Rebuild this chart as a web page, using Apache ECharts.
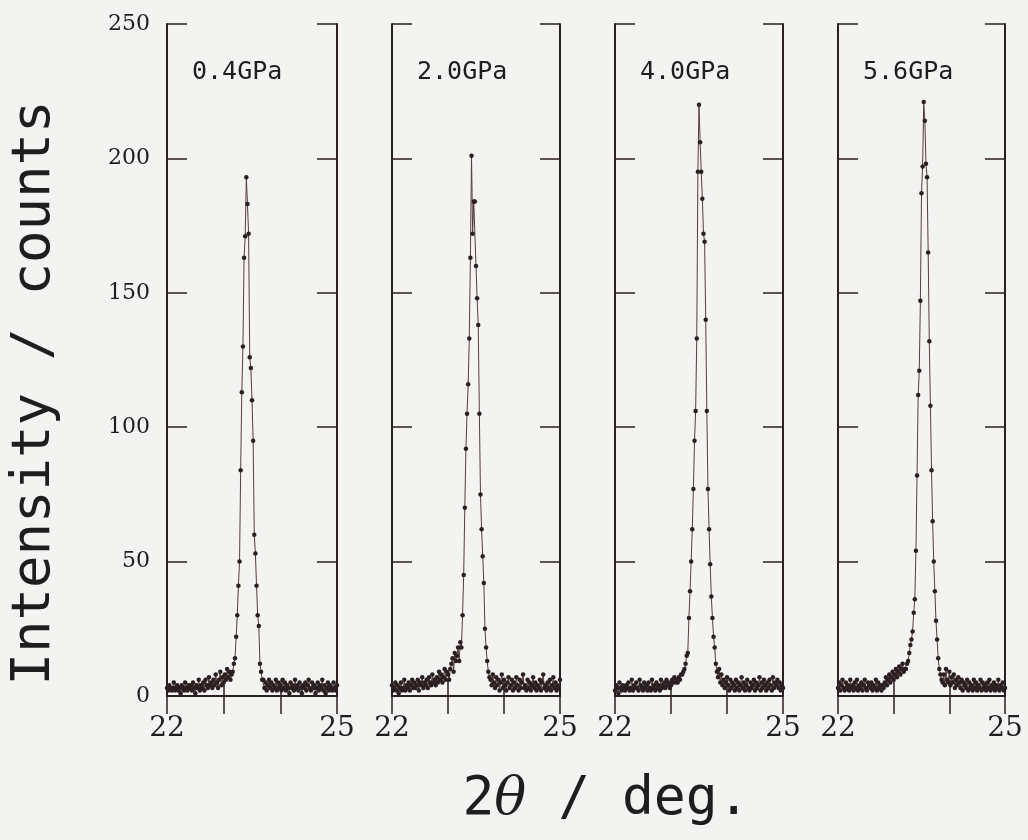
<!DOCTYPE html>
<html><head><meta charset="utf-8">
<script src="https://cdn.jsdelivr.net/npm/echarts@6/dist/echarts.min.js"></script>
<style>html,body{margin:0;padding:0;background:#f3f3f2}#c{width:1028px;height:840px}</style>
</head><body><div id="c"></div>
<script>
// scan grid of the diffractometer: 2theta from 22 to 25 deg
const scanStart = 22, scanStep = 0.02;
const panelLabels = ['0.4GPa', '2.0GPa', '4.0GPa', '5.6GPa'];
const xTickLabels = ['22', '25'];
const yTickValues = [0, 50, 100, 150, 200, 250];

const p04 = [
  3,2,4,3,2,3,5,2,3,4, 2,3,1,4,3,2,5,3,2,4, 3,4,2,5,3,1,4,3,6,2, 4,3,5,2,6,4,3,7,4,5,
  3,6,4,8,5,3,6,9,4,7, 5,8,6,10,7,9,6,8,
  9,12,14,22,30,41,50,84,113,130,163,171,193,183,172,126,122,110,95,60,53,41,30,26,12,9,6,
  6,3,5,2,4,6,3,5,2, 4,3,6,2,5,3,4,2,6,3, 5,2,4,3,1,5,3,4,2,6, 3,4,2,5,3,1,4,3,5,2,
  4,6,3,2,5,3,4,1,3,5, 2,4,3,6,2,4,1,3,5,2, 4,3,2,5,3,2,4
];
const p20 = [
  4,2,3,5,2,4,1,3,5,2, 3,6,2,4,3,5,2,4,6,3, 5,3,4,6,2,5,4,7,3,5, 4,6,3,7,5,4,8,5,6,4,
  7,5,9,6,8,5,7,10,6,9, 8,6,10,12,14,9,16,13,
  15,18,13,20,18,30,45,70,92,105,116,133,163,201,172,184,184,160,148,138,105,75,62,52,42,25,18,13,9,7,
  6,4,8,5,3,7,4,6,2,5, 8,3,6,4,2,5,7,3,4,6, 2,5,3,7,4,2,6,3,5,8, 3,4,2,6,3,5,2,4,7,3,
  5,2,4,3,6,2,5,8,3,4, 2,5,3,6,2,4,7,3,5,2, 4,3,6
];
const p40 = [
  2,4,3,1,5,3,2,4,3,2, 4,3,5,2,3,6,2,4,3,5, 3,2,6,4,3,2,5,3,4,2, 5,3,2,6,3,4,2,5,3,4,
  2,6,3,4,5,3,6,4,5,3, 4,6,5,7,5,6,5,7,6,8,
  8,9,10,12,15,16,29,39,50,62,77,95,106,133,195,220,206,195,185,172,169,140,106,77,62,49,37,29,22,18,12,9,7,10,
  5,8,4,6,3,5,7,4,2,6, 3,5,4,2,6,3,5,2,4,7, 3,5,2,4,6,3,2,5,3,4, 6,2,5,3,4,7,2,5,3,6,
  4,2,5,3,6,4,2,7,3,5, 4,6,3,5,2,4,3
];
const p56 = [
  3,5,2,4,6,3,2,5,3,4, 2,6,3,4,2,5,3,6,2,4, 3,5,2,4,6,3,2,5,4,3, 5,2,4,3,6,2,5,3,4,2,
  4,3,5,7,4,6,8,5,7,9, 6,8,10,7,9,11,8,10,12,9, 10,
  10,12,13,16,19,21,24,31,36,54,82,112,121,147,187,197,221,214,198,193,165,132,108,84,65,50,39,28,21,14,10,8,6,
  5,8,4,10,6,5,9,4,7,5, 8,3,6,4,7,5,3,6,2,5, 4,3,6,2,5,3,4,2,6,3, 5,2,4,3,6,2,5,3,4,2,
  5,3,6,2,4,3,5,2,4,3, 6,2,4,3,5,2,3
];
const panelData = [p04, p20, p40, p56];

const gridLefts = [167, 392, 615, 838];
const gridWidths = [170, 168, 168, 167];
const gridTop = 24, gridHeight = 672;
const ink = '#2a1f21';
const lineCol = '#5a3b41';
const tickFont = 'DejaVu Serif';
const monoFont = 'DejaVu Sans Mono';

const grids = [], xAxes = [], yAxes = [], series = [], graphics = [];
panelData.forEach((vals, p) => {
  grids.push({left: gridLefts[p], top: gridTop, width: gridWidths[p], height: gridHeight});
  const axLine = {show: true, lineStyle: {color: ink, width: 2}};
  const tick = (len) => ({show: true, inside: true, length: len, lineStyle: {color: ink, width: 1.5}});
  xAxes.push({
    type: 'value', gridIndex: p, position: 'bottom', min: 22, max: 25, interval: 1,
    axisLine: axLine, axisTick: tick(16), splitLine: {show: false},
    axisLabel: {show: true, margin: 19, fontFamily: tickFont, fontSize: 28, color: '#1e1e1e',
      formatter: v => xTickLabels.includes(String(v)) ? String(v) : ''}
  });
  xAxes.push({
    type: 'value', gridIndex: p, position: 'top', min: 22, max: 25, interval: 1,
    axisLine: axLine, axisTick: tick(18), splitLine: {show: false}, axisLabel: {show: false}
  });
  yAxes.push({
    type: 'value', gridIndex: p, position: 'left', min: 0, max: 250, interval: 50,
    axisLine: axLine, axisTick: tick(20), splitLine: {show: false},
    axisLabel: {show: p === 0, margin: 17, fontFamily: tickFont, fontSize: 22, color: '#1e1e1e',
      formatter: v => yTickValues.includes(v) ? String(v) : ''}
  });
  yAxes.push({
    type: 'value', gridIndex: p, position: 'right', min: 0, max: 250, interval: 50,
    axisLine: axLine, axisTick: tick(20), splitLine: {show: false}, axisLabel: {show: false}
  });
  series.push({
    type: 'line', xAxisIndex: 2 * p, yAxisIndex: 2 * p,
    data: vals.map((v, i) => [Number((scanStart + i * scanStep).toFixed(2)), v]),
    showSymbol: true, showAllSymbol: true, symbol: 'circle', symbolSize: 4.5,
    itemStyle: {color: ink}, lineStyle: {color: lineCol, width: 1},
    animation: false, silent: true
  });
  graphics.push({
    type: 'text', left: gridLefts[p] + 25, top: 60,
    style: {text: panelLabels[p], font: '25px "' + monoFont + '"', fill: '#1e1e1e'}
  });
});

graphics.push({
  type: 'text', x: 35, y: 393, rotation: Math.PI / 2,
  style: {text: 'Intensity / counts', font: '54px "' + monoFont + '"', fill: '#1e1e1e',
    align: 'center', verticalAlign: 'middle'}
});
graphics.push({
  type: 'text', x: 606, y: 800,
  style: {text: '2{t|θ} / deg.', font: '53px "' + monoFont + '"', fill: '#1e1e1e',
    align: 'center', verticalAlign: 'middle',
    rich: {t: {fontFamily: 'DejaVu Serif', fontStyle: 'italic', fontSize: 53, fill: '#1e1e1e'}}}
});

const chart = echarts.init(document.getElementById('c'), null, {renderer: 'canvas'});
chart.setOption({
  backgroundColor: '#f3f3f2',
  animation: false,
  grid: grids, xAxis: xAxes, yAxis: yAxes, series: series, graphic: graphics
});
</script>
</body></html>
